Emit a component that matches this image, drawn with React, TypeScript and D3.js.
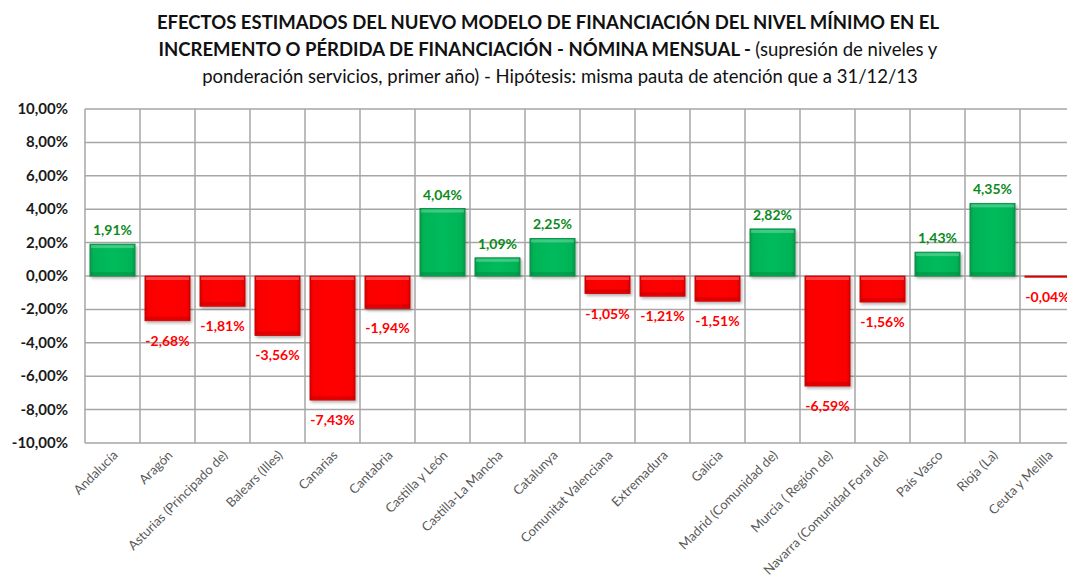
import React from "react";
import * as d3 from "d3";

const categories = [
  "Andalucía", "Aragón", "Asturias (Principado de)", "Balears (Illes)", "Canarias",
  "Cantabria", "Castilla y León", "Castilla-La Mancha", "Catalunya", "Comunitat Valenciana",
  "Extremadura", "Galicia", "Madrid (Comunidad de)", "Murcia ( Región de)",
  "Navarra (Comunidad Foral de)", "País Vasco", "Rioja (La)", "Ceuta y Melilla",
];
const values = [1.91, -2.68, -1.81, -3.56, -7.43, -1.94, 4.04, 1.09, 2.25, -1.05, -1.21, -1.51, 2.82, -6.59, -1.56, 1.43, 4.35, -0.04];
const yTicks = [10, 8, 6, 4, 2, 0, -2, -4, -6, -8, -10];

const W = 1067, H = 586;
const left = 85, top = 109, bottom = 443, band = 55;
const FONT = "Lato, 'Open Sans', sans-serif";

const fmt = (v: number) => v.toFixed(2).replace(".", ",") + "%";

export default function App() {
  const x = d3.scaleBand<string>().domain(categories).range([left, left + band * categories.length]).paddingInner(0.18).paddingOuter(0.09);
  const y = d3.scaleLinear().domain([-10, 10]).range([bottom, top]);
  const y0 = y(0);
  const bounds = d3.range(categories.length + 1).map((i) => left + i * band);

  return (
    <svg width={W} height={H} style={{ position: "absolute", left: 0, top: 0, background: "#fff" }} fontFamily={FONT}>
      <defs>
        <linearGradient id="gG" x1="0" x2="1" y1="0" y2="0">
          <stop offset="0" stopColor="#0a9a47" />
          <stop offset="0.08" stopColor="#00b457" />
          <stop offset="0.5" stopColor="#05bb5c" />
          <stop offset="0.92" stopColor="#00b457" />
          <stop offset="1" stopColor="#0a9a47" />
        </linearGradient>
        <linearGradient id="gR" x1="0" x2="1" y1="0" y2="0">
          <stop offset="0" stopColor="#d80000" />
          <stop offset="0.08" stopColor="#fa0000" />
          <stop offset="0.5" stopColor="#ff0606" />
          <stop offset="0.92" stopColor="#fa0000" />
          <stop offset="1" stopColor="#d80000" />
        </linearGradient>
        <filter id="sh" x="-20%" y="-20%" width="140%" height="140%">
          <feDropShadow dx="1.5" dy="2" stdDeviation="1.5" floodColor="#000" floodOpacity="0.3" />
        </filter>
      </defs>

      {/* Title */}
      <g textAnchor="middle" fill="#111" fontSize={18.5}>
        <text x={548} y={29} fontWeight="bold">EFECTOS ESTIMADOS DEL NUEVO MODELO DE FINANCIACIÓN DEL NIVEL MÍNIMO EN EL</text>
        <text x={548} y={56}>
          <tspan fontWeight="bold">INCREMENTO O PÉRDIDA DE FINANCIACIÓN - NÓMINA MENSUAL - </tspan>
          <tspan>(supresión de niveles y</tspan>
        </text>
        <text x={560} y={83}>ponderación servicios, primer año) -  Hipótesis: misma pauta de atención que a 31/12/13</text>
      </g>

      {/* Gridlines */}
      <g stroke="#a6a6a6" strokeWidth={1.5}>
        {yTicks.map((t) => (
          <line key={"h" + t} x1={left} x2={W} y1={y(t)} y2={y(t)} />
        ))}
        {bounds.map((b, i) => (
          <line key={"v" + i} x1={b} x2={b} y1={top} y2={bottom} />
        ))}
      </g>

      {/* Y tick labels */}
      <g textAnchor="end" fontWeight="bold" fontSize={15} fill="#1a1a1a">
        {yTicks.map((t) => (
          <text key={t} x={68} y={y(t) + 5}>{fmt(t)}</text>
        ))}
      </g>

      {/* Bars */}
      {categories.map((c, i) => {
        const v = values[i];
        const bx = x(c)!;
        const bw = x.bandwidth();
        const yt = Math.min(y(v), y0);
        const h = Math.max(Math.abs(y(v) - y0), 1.2);
        const pos = v >= 0;
        const edge = pos ? "#08853d" : "#c00000";
        return (
          <g key={c}>
            <rect x={bx} y={yt} width={bw} height={h} fill={`url(#${pos ? "gG" : "gR"})`} stroke={edge} strokeWidth={0.8} filter={h > 3 ? "url(#sh)" : undefined} />
            {h > 6 && (
              <>
                <rect x={bx + 1} y={yt + 1} width={bw - 2} height={3} fill="#fff" opacity={0.25} />
                <rect x={bx + 1} y={yt + h - 4} width={bw - 2} height={3} fill="#000" opacity={0.12} />
              </>
            )}
            <text
              x={bx + bw / 2}
              y={pos ? y(v) - 9 : y(v) + 25}
              textAnchor="middle"
              fontWeight="bold"
              fontSize={14}
              fill={pos ? "#0b8a1c" : "#ff0000"}
            >
              {fmt(v)}
            </text>
          </g>
        );
      })}

      {/* X labels */}
      <g fontSize={13} fill="#595959" textAnchor="end">
        {categories.map((c) => {
          const cx = x(c)! + x.bandwidth() / 2 + 6;
          const cy = 456;
          return (
            <text key={c} transform={`translate(${cx},${cy}) rotate(-45)`}>{c}</text>
          );
        })}
      </g>
    </svg>
  );
}
